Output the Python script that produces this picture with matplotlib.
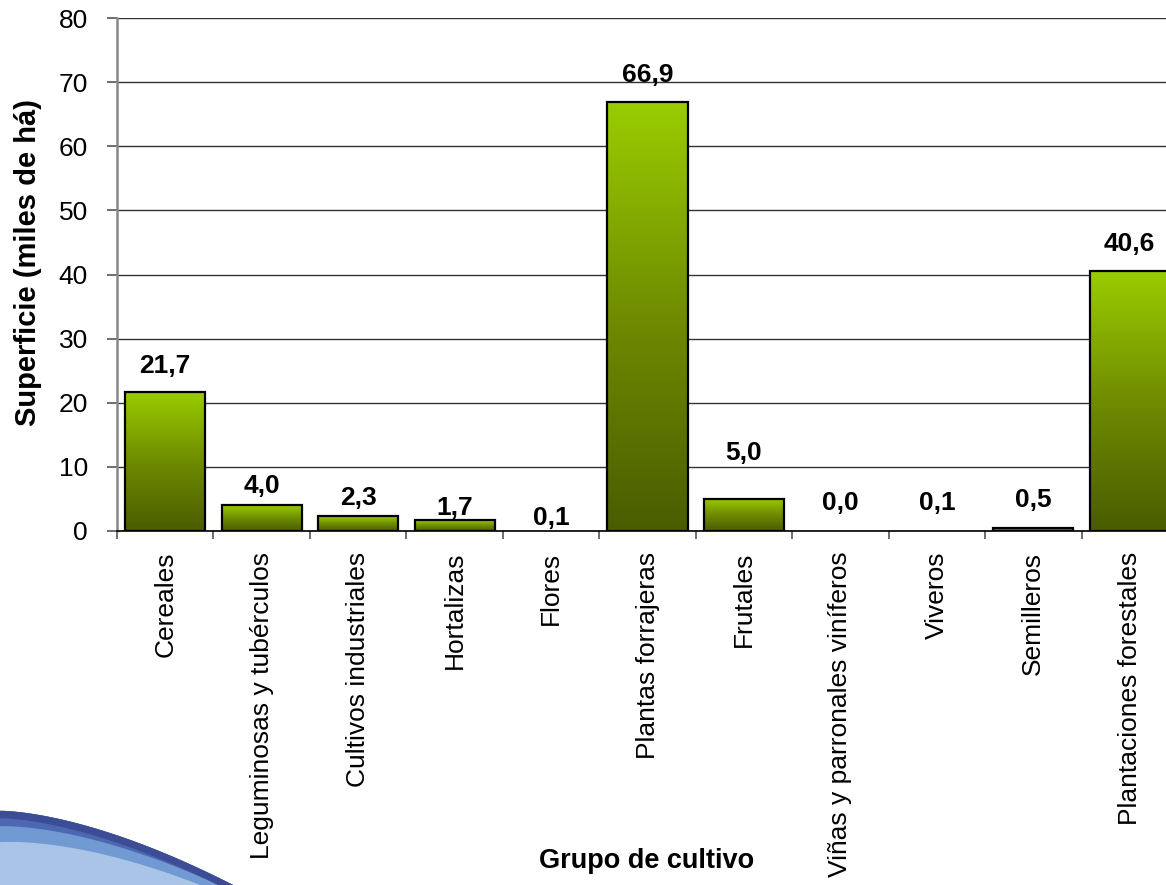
import numpy as np
import matplotlib
matplotlib.use("Agg")
import matplotlib.pyplot as plt
from matplotlib.colors import LinearSegmentedColormap

# ---------- Data ----------
categories = ["Cereales", "Leguminosas y tubérculos", "Cultivos industriales",
              "Hortalizas", "Flores", "Plantas forrajeras", "Frutales",
              "Viñas y parronales viníferos", "Viveros", "Semilleros",
              "Plantaciones forestales"]
values = [21.7, 4.0, 2.3, 1.7, 0.1, 66.9, 5.0, 0.0, 0.1, 0.5, 40.6]
value_labels = ["21,7", "4,0", "2,3", "1,7", "0,1", "66,9", "5,0", "0,0", "0,1", "0,5", "40,6"]
# gap (points) between bar top and label baseline, as placed in the original
label_gap = [13.7, 8.6, 7.9, 3.6, 3.6, 14.4, 28.0, 15.0, 15.0, 15.0, 14.4]

# ---------- Style ----------
plt.rcParams['font.family'] = ['Liberation Sans', 'DejaVu Sans']
FS = 19
bar_cmap = LinearSegmentedColormap.from_list("green", ["#4a5c00", "#6f8c00", "#9acd00"])

fig = plt.figure(figsize=(11.66, 8.85), dpi=100)
ax = fig.add_axes([117 / 1166, 0.4, 1061 / 1166, 513 / 885])

x = np.arange(len(categories))
bars = ax.bar(x, values, width=0.83, facecolor="none", edgecolor="black",
              linewidth=1.6, zorder=3)

# gradient fill inside each bar; bars too thin to see get no outline
grad = np.linspace(0, 1, 256).reshape(-1, 1)
for rect in bars:
    h = rect.get_height()
    if h < 0.3:
        rect.set_linewidth(0)
        continue
    x0 = rect.get_x()
    im = ax.imshow(grad, cmap=bar_cmap, aspect="auto", origin="lower",
                   extent=[x0, x0 + rect.get_width(), 0, h], zorder=2)
    im.set_clip_path(rect)

for xi, v, lab, gap in zip(x, values, value_labels, label_gap):
    ax.annotate(lab, (xi, v), xytext=(0, gap), textcoords="offset points",
                ha="center", va="baseline", fontsize=FS, fontweight="bold")

ax.set_xlim(-0.5, len(categories) - 0.5)
ax.set_ylim(0, 80)
ax.set_yticks(np.arange(0, 81, 10))
ax.yaxis.grid(True, color="#333333", linewidth=1.0, zorder=0)
ax.set_axisbelow(True)

ax.set_xticks(x)
ax.set_xticklabels(categories, rotation=90, fontsize=FS)
ax.set_xticks(np.arange(-0.5, len(categories), 1), minor=True)
ax.tick_params(axis="x", which="major", length=0, pad=15)
ax.tick_params(axis="x", which="minor", length=6, width=1.2, color="#555555")
ax.tick_params(axis="y", length=7, width=1.2, color="#555555", pad=14, labelsize=FS)

for s in ["top", "right"]:
    ax.spines[s].set_visible(False)
ax.spines["left"].set_color("#888888")
ax.spines["left"].set_linewidth(1.8)
ax.spines["bottom"].set_color("black")
ax.spines["bottom"].set_linewidth(1.2)

fig.text(28 / 1166, 1 - 263 / 885, "Superficie (miles de há)", rotation=90,
         ha="center", va="center", fontsize=21, fontweight="bold")
fig.text(647 / 1166, 1 - 861 / 885, "Grupo de cultivo",
         ha="center", va="center", fontsize=19.5, fontweight="bold")

# ---------- Blue swoosh decoration (bottom-left) ----------
deco = fig.add_axes([0, 0, 250 / 1166, 90 / 885], zorder=-1)
deco.set_xlim(0, 250)
deco.set_ylim(885, 795)
deco.axis("off")
xs = np.linspace(0, 232, 200)
top = 811 + 74 * (xs / 232) ** 1.6
deco.fill_between(xs, top, 885, color="#a9c4e6")
deco.fill_between(xs, top, np.minimum(top + 30 - 18 * xs / 232, 885), color="#7199d2")
deco.fill_between(xs, top, np.minimum(top + 14 - 9 * xs / 232, 885), color="#4d68b2")
deco.fill_between(xs, top, np.minimum(top + 6, 885), color="#3c4d96")

fig.savefig("out.png", dpi=100)
